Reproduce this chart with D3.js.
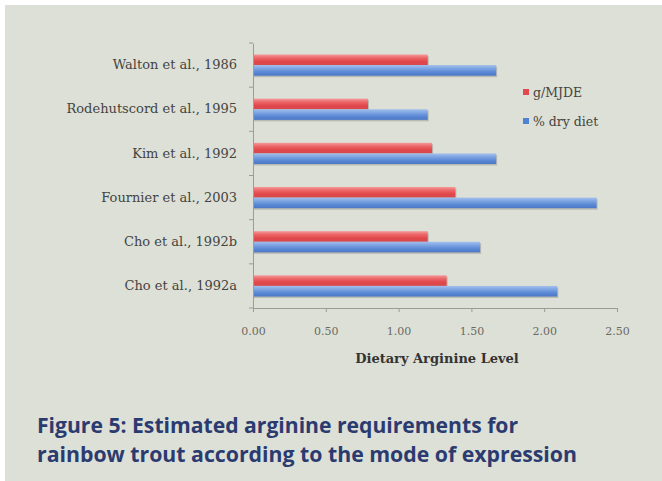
<!DOCTYPE html>
<html>
<head>
<meta charset="utf-8">
<script src="https://cdn.jsdelivr.net/npm/d3@7"></script>
<style>
  body { margin: 0; background: #fff; }
  svg { display: block; }
</style>
</head>
<body>
<div id="chart"></div>
<script>
const studies = ["Walton et al., 1986", "Rodehutscord et al., 1995", "Kim et al., 1992",
  "Fournier et al., 2003", "Cho et al., 1992b", "Cho et al., 1992a"];
const gPerMJDE = [1.20, 0.79, 1.23, 1.39, 1.20, 1.33];
const pctDryDiet = [1.67, 1.20, 1.67, 2.36, 1.56, 2.09];
const seriesNames = ["g/MJDE", "% dry diet"];
const xTicks = [0, 0.5, 1, 1.5, 2, 2.5];

const width = 662;
const height = 481;
const serif = "'DejaVu Serif', serif";

const svg = d3.select("#chart").append("svg")
  .attr("width", width)
  .attr("height", height);

// panel background
svg.append("rect")
  .attr("x", 5).attr("y", 5)
  .attr("width", width - 5).attr("height", height - 5)
  .attr("fill", "#dde0d6");

const defs = svg.append("defs");
const grads = [
  { id: "gRed", stops: ["#f39a9a", "#ec6466", "#e0474b", "#d8484b"] },
  { id: "gBlue", stops: ["#a3c0ec", "#7ca3e2", "#5a88d4", "#4a78c6"] }
];
grads.forEach((g) => {
  const lg = defs.append("linearGradient").attr("id", g.id)
    .attr("x1", 0).attr("y1", 0).attr("x2", 0).attr("y2", 1);
  g.stops.forEach((c, i) => lg.append("stop")
    .attr("offset", i / (g.stops.length - 1)).attr("stop-color", c));
});

const x = d3.scaleLinear().domain([0, 2.5]).range([253, 617]);
const y = d3.scaleBand().domain(studies).range([43, 308]).paddingInner(0.52).paddingOuter(0.26);
const sub = d3.scaleBand().domain(seriesNames).range([0, y.bandwidth()]);

const rows = studies.map((s, i) => ({ study: s, vals: [gPerMJDE[i], pctDryDiet[i]] }));

const groups = svg.append("g").selectAll("g")
  .data(rows)
  .join("g")
  .attr("transform", (d) => `translate(0,${y(d.study)})`);

// soft shadow
groups.selectAll("rect.shadow")
  .data((d) => d.vals.map((v, k) => ({ v, k })))
  .join("rect")
  .attr("class", "shadow")
  .attr("x", x(0) + 1)
  .attr("y", (d) => sub(seriesNames[d.k]) + 1.5)
  .attr("width", (d) => x(d.v) - x(0))
  .attr("height", sub.bandwidth())
  .attr("fill", "#b9bbb3");

groups.selectAll("rect.bar")
  .data((d) => d.vals.map((v, k) => ({ v, k })))
  .join("rect")
  .attr("class", "bar")
  .attr("x", x(0))
  .attr("y", (d) => sub(seriesNames[d.k]))
  .attr("width", (d) => x(d.v) - x(0))
  .attr("height", sub.bandwidth())
  .attr("fill", (d) => (d.k === 0 ? "url(#gRed)" : "url(#gBlue)"));

// x axis
const xAxis = svg.append("g")
  .attr("transform", "translate(0,308)")
  .call(d3.axisBottom(x).tickValues(xTicks).tickFormat(d3.format(".2f")).tickSize(4).tickSizeOuter(0));
xAxis.select(".domain").attr("stroke", "#9a9c96");
xAxis.selectAll(".tick line").attr("stroke", "#9a9c96");
xAxis.selectAll(".tick text")
  .attr("y", 19)
  .attr("fill", "#6a6a66")
  .style("font-family", serif)
  .style("font-size", "11px");

// y axis
const yAxis = svg.append("g")
  .attr("transform", `translate(${x(0)},0)`)
  .call(d3.axisLeft(y).tickSize(0).tickPadding(16));
yAxis.select(".domain").attr("stroke", "#9a9c96");
yAxis.selectAll(".tick text")
  .attr("fill", "#444441")
  .style("font-family", serif)
  .style("font-size", "13px");
// category separator ticks
svg.append("g").selectAll("line")
  .data(studies.concat(["end"]))
  .join("line")
  .attr("x1", x(0) - 4).attr("x2", x(0))
  .attr("y1", (d, i) => 43 + i * y.step())
  .attr("y2", (d, i) => 43 + i * y.step())
  .attr("stroke", "#9a9c96");

svg.append("text")
  .attr("x", 437).attr("y", 363)
  .attr("text-anchor", "middle")
  .attr("fill", "#333")
  .style("font-family", serif)
  .style("font-weight", "bold")
  .style("font-size", "13px")
  .text("Dietary Arginine Level");

// legend
const legend = svg.append("g").attr("transform", "translate(523,86)");
seriesNames.forEach((name, i) => {
  const row = legend.append("g").attr("transform", `translate(0,${i * 29})`);
  row.append("rect").attr("x", 0).attr("y", 3).attr("width", 6).attr("height", 6)
    .attr("fill", i === 0 ? "#e4474c" : "#4f82d2");
  row.append("text").attr("x", 10).attr("y", 11)
    .attr("fill", "#444441")
    .style("font-family", serif)
    .style("font-size", "12.5px")
    .text(name);
});

// caption
const caption = ["Figure 5: Estimated arginine requirements for",
  "rainbow trout according to the mode of expression"];
const capLens = [481, 540];
svg.append("g").selectAll("text")
  .data(caption)
  .join("text")
  .attr("x", 37)
  .attr("y", (d, i) => 433 + i * 29)
  .attr("fill", "#2b3b70")
  .attr("textLength", (d, i) => capLens[i])
  .attr("lengthAdjust", "spacingAndGlyphs")
  .style("font-family", "'Open Sans', sans-serif")
  .style("font-weight", "bold")
  .style("font-size", "22px")
  .text((d) => d);
</script>
</body>
</html>
